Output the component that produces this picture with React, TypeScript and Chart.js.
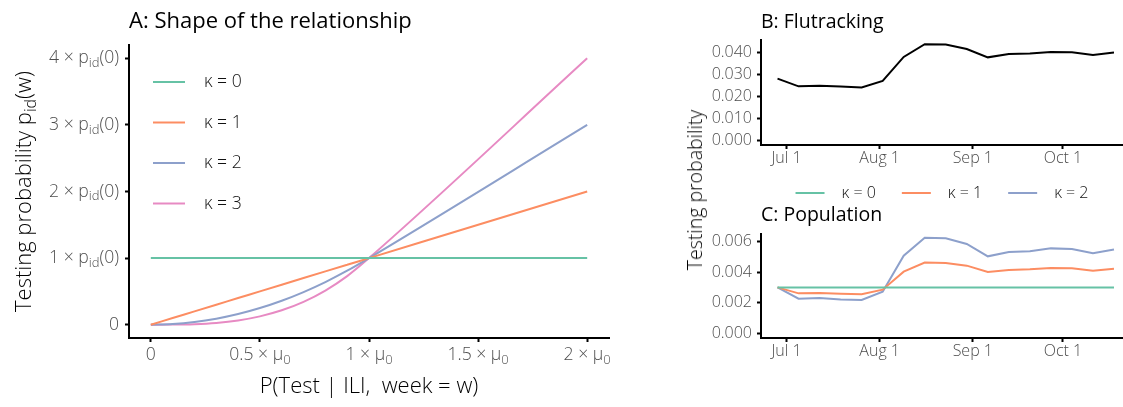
import React, { useEffect, useRef } from "react";
import { Chart, registerables } from "chart.js";

Chart.register(...registerables);

const FONT = "'Open Sans', 'DejaVu Sans', sans-serif";
const TICK_COLOR = "#4d4d4d";
const LIGHT = 300;

// ---------- Panel A: shape of the relationship ----------
const relativeIli = [0, 0.1, 0.2, 0.3, 0.4, 0.5, 0.6, 0.7, 0.8, 0.9, 1, 2];
const shapeK0 = [1, 1, 1, 1, 1, 1, 1, 1, 1, 1, 1, 1];
const shapeK1 = [0, 0.1, 0.2, 0.3, 0.4, 0.5, 0.6, 0.7, 0.8, 0.9, 1, 2];
const shapeK2 = [0, 0.01, 0.04, 0.09, 0.16, 0.25, 0.36, 0.49, 0.64, 0.81, 1, 3];
const shapeK3 = [0, 0.001, 0.008, 0.027, 0.064, 0.125, 0.216, 0.343, 0.512, 0.729, 1, 4];
const kappaLabels = ["κ = 0", "κ = 1", "κ = 2", "κ = 3"];
const kappaColors = ["#66C2A5", "#FC8D62", "#8DA0CB", "#E78AC3"];
const shapeYTicks = [0, 1, 2, 3, 4];
const shapeXTicks = [0, 0.5, 1, 1.5, 2];
const shapeXTickLabels = ["0", "0.5", "1", "1.5", "2"];

// ---------- Panels B and C: weekly series ----------
const weekDates = [
  "2019-06-28", "2019-07-05", "2019-07-12", "2019-07-19", "2019-07-26",
  "2019-08-02", "2019-08-09", "2019-08-16", "2019-08-23", "2019-08-30",
  "2019-09-06", "2019-09-13", "2019-09-20", "2019-09-27", "2019-10-04",
  "2019-10-11", "2019-10-18",
];
const flutracking = [
  0.0280, 0.0245, 0.0248, 0.0244, 0.0240, 0.0270, 0.0379, 0.0437, 0.0435,
  0.0415, 0.0377, 0.0392, 0.0395, 0.0401, 0.0400, 0.0388, 0.0399,
];
const popK0 = [
  0.0030, 0.0030, 0.0030, 0.0030, 0.0030, 0.0030, 0.0030, 0.0030, 0.0030,
  0.0030, 0.0030, 0.0030, 0.0030, 0.0030, 0.0030, 0.0030, 0.0030,
];
const popK1 = [
  0.00300, 0.00261, 0.00263, 0.00259, 0.00255, 0.00285, 0.00403, 0.00462, 0.00460,
  0.00442, 0.00401, 0.00414, 0.00418, 0.00427, 0.00425, 0.00409, 0.00422,
];
const popK2 = [
  0.00300, 0.00226, 0.00230, 0.00221, 0.00218, 0.00272, 0.00507, 0.00625, 0.00621,
  0.00584, 0.00503, 0.00531, 0.00537, 0.00555, 0.00551, 0.00523, 0.00547,
];
const popLabels = ["κ = 0", "κ = 1", "κ = 2"];
const monthTickDates = ["2019-07-01", "2019-08-01", "2019-09-01", "2019-10-01"];
const monthTickLabels = ["Jul 1", "Aug 1", "Sep 1", "Oct 1"];
const flutrackingYTicks = [0, 0.01, 0.02, 0.03, 0.04];
const populationYTicks = [0, 0.002, 0.004, 0.006];

const ORIGIN = Date.parse("2019-07-01");
const dayOffset = (d: string) => (Date.parse(d) - ORIGIN) / 86400000;

type Seg = { t: string; sub?: boolean };

function drawRich(
  ctx: CanvasRenderingContext2D,
  segs: Seg[],
  x: number,
  y: number,
  align: "left" | "right" | "center",
  size: number,
  weight: number,
  color: string
) {
  const mainFont = `${weight} ${size}px ${FONT}`;
  const subFont = `${weight} ${Math.round(size * 0.72)}px ${FONT}`;
  const widths = segs.map((s) => {
    ctx.font = s.sub ? subFont : mainFont;
    return ctx.measureText(s.t).width;
  });
  const total = widths.reduce((a, b) => a + b, 0);
  let cx = align === "right" ? x - total : align === "center" ? x - total / 2 : x;
  ctx.fillStyle = color;
  ctx.textBaseline = "middle";
  ctx.textAlign = "left";
  segs.forEach((s, i) => {
    ctx.font = s.sub ? subFont : mainFont;
    ctx.fillText(s.t, cx, s.sub ? y + size * 0.3 : y);
    cx += widths[i];
  });
}

const axisCommon = {
  grid: { drawOnChartArea: false, drawTicks: true, tickLength: 4, tickWidth: 2, tickColor: "#000" },
  border: { display: true, color: "#000", width: 2 },
};

const shapePlugin = {
  id: "shapeDecor",
  afterDraw(chart: any) {
    const { ctx, chartArea, scales } = chart;
    const ys = scales.y;
    const xs = scales.x;
    ctx.save();
    shapeYTicks.forEach((v) => {
      const py = ys.getPixelForValue(v);
      const segs: Seg[] = v === 0 ? [{ t: "0" }] : [{ t: `${v} × p` }, { t: "id", sub: true }, { t: "(0)" }];
      drawRich(ctx, segs, chartArea.left - 10, py, "right", 17.6, LIGHT, TICK_COLOR);
    });
    shapeXTicks.forEach((v, i) => {
      const px = xs.getPixelForValue(v);
      const segs: Seg[] = v === 0 ? [{ t: "0" }] : [{ t: `${shapeXTickLabels[i]} × μ` }, { t: "0", sub: true }];
      drawRich(ctx, segs, px, chartArea.bottom + 17, "center", 17.6, LIGHT, TICK_COLOR);
    });
    // legend inside panel
    chart.data.datasets.forEach((ds: any, i: number) => {
      const y = chartArea.top + 37 + i * 40.5;
      ctx.strokeStyle = ds.borderColor;
      ctx.lineWidth = 2;
      ctx.beginPath();
      ctx.moveTo(chartArea.left + 24, y);
      ctx.lineTo(chartArea.left + 56, y);
      ctx.stroke();
      ctx.font = `${LIGHT} 17.6px ${FONT}`;
      ctx.fillStyle = "#111";
      ctx.textBaseline = "middle";
      ctx.textAlign = "left";
      ctx.fillText(ds.label, chartArea.left + 75, y);
    });
    // y axis title
    ctx.translate(25, (chartArea.top + chartArea.bottom) / 2);
    ctx.rotate(-Math.PI / 2);
    drawRich(ctx, [{ t: "Testing probability p" }, { t: "id", sub: true }, { t: "(w)" }], 0, 0, "center", 22, LIGHT, "#000");
    ctx.restore();
  },
};

const popLegendPlugin = {
  id: "popLegend",
  afterDraw(chart: any) {
    const { ctx, chartArea } = chart;
    ctx.save();
    ctx.font = `${LIGHT} 16px ${FONT}`;
    const keyW = 29;
    const gapText = 17;
    const gapItem = 26;
    const ds = chart.data.datasets;
    const widths = ds.map((d: any) => ctx.measureText(d.label).width);
    const total = widths.reduce((a: number, w: number) => a + keyW + gapText + w, 0) + gapItem * (ds.length - 1);
    let x = (chartArea.left + chartArea.right) / 2 - total / 2;
    const y = 18;
    ds.forEach((d: any, i: number) => {
      ctx.strokeStyle = d.borderColor;
      ctx.lineWidth = 2;
      ctx.beginPath();
      ctx.moveTo(x, y);
      ctx.lineTo(x + keyW, y);
      ctx.stroke();
      ctx.fillStyle = "#111";
      ctx.textBaseline = "middle";
      ctx.textAlign = "left";
      ctx.fillText(d.label, x + keyW + gapText, y);
      x += keyW + gapText + widths[i] + gapItem;
    });
    ctx.restore();
  },
};

function timeXAxis() {
  return {
    type: "linear" as const,
    min: -8.5,
    max: 112,
    afterBuildTicks: (s: any) => {
      s.ticks = monthTickDates.map((d) => ({ value: dayOffset(d) }));
    },
    ticks: {
      autoSkip: false,
      maxRotation: 0,
      padding: 0,
      color: TICK_COLOR,
      font: { family: FONT, size: 16, weight: LIGHT as any },
      callback: (_v: any, i: number) => monthTickLabels[i],
    },
    ...axisCommon,
  };
}

function makeShapeChart(canvas: HTMLCanvasElement) {
  const series = [shapeK0, shapeK1, shapeK2, shapeK3];
  return new Chart(canvas, {
    type: "line",
    data: {
      datasets: series.map((s, i) => ({
        label: kappaLabels[i],
        data: relativeIli.map((x, j) => ({ x, y: s[j] })),
        borderColor: kappaColors[i],
        backgroundColor: kappaColors[i],
        borderWidth: 2,
        pointRadius: 0,
        cubicInterpolationMode: "monotone" as const,
        fill: false,
      })),
    },
    options: {
      animation: false,
      responsive: false,
      maintainAspectRatio: false,
      layout: { padding: { left: 0, right: 31, top: 0, bottom: 0 } },
      plugins: {
        legend: { display: false },
        tooltip: { enabled: false },
        title: {
          display: true,
          text: "A: Shape of the relationship",
          align: "start",
          fullSize: false,
          color: "#000",
          font: { family: FONT, size: 22, weight: 400 as any },
          padding: { top: 8.8, bottom: 9.8 },
        },
      },
      scales: {
        x: {
          type: "linear",
          min: -0.1,
          max: 2.1,
          afterBuildTicks: (s: any) => {
            s.ticks = shapeXTicks.map((v) => ({ value: v }));
          },
          afterFit: (s: any) => {
            s.height = 69;
          },
          ticks: { display: false },
          title: {
            display: true,
            text: "P(Test | ILI,  week = w)",
            color: "#000",
            font: { family: FONT, size: 22, weight: LIGHT as any },
            padding: { top: 0, bottom: 7 },
          },
          ...axisCommon,
        },
        y: {
          type: "linear",
          min: -0.2,
          max: 4.2,
          afterBuildTicks: (s: any) => {
            s.ticks = shapeYTicks.map((v) => ({ value: v }));
          },
          afterFit: (s: any) => {
            s.width = 129;
          },
          ticks: { display: false },
          ...axisCommon,
        },
      },
    } as any,
    plugins: [shapePlugin],
  });
}

function makeFlutrackingChart(canvas: HTMLCanvasElement) {
  return new Chart(canvas, {
    type: "line",
    data: {
      datasets: [
        {
          label: "Flutracking",
          data: weekDates.map((d, j) => ({ x: dayOffset(d), y: flutracking[j] })),
          borderColor: "#000",
          backgroundColor: "#000",
          borderWidth: 2,
          pointRadius: 0,
          tension: 0,
          fill: false,
        },
      ],
    },
    options: {
      animation: false,
      responsive: false,
      maintainAspectRatio: false,
      layout: { padding: 0 },
      plugins: {
        legend: { display: false },
        tooltip: { enabled: false },
        title: {
          display: true,
          text: "B: Flutracking",
          align: "start",
          fullSize: false,
          color: "#000",
          font: { family: FONT, size: 19.5, weight: 400 as any },
          padding: { top: 10.3, bottom: 6.3 },
        },
      },
      scales: {
        x: {
          ...timeXAxis(),
          afterFit: (s: any) => {
            s.height = 30;
          },
        },
        y: {
          type: "linear",
          min: -0.0022,
          max: 0.0456,
          afterBuildTicks: (s: any) => {
            s.ticks = flutrackingYTicks.map((v) => ({ value: v }));
          },
          afterFit: (s: any) => {
            s.width = 81;
          },
          ticks: {
            padding: 5,
            color: TICK_COLOR,
            font: { family: FONT, size: 16, weight: LIGHT as any },
            callback: (v: any) => Number(v).toFixed(3),
          },
          ...axisCommon,
        },
      },
    } as any,
  });
}

function makePopulationChart(canvas: HTMLCanvasElement) {
  const series = [popK0, popK1, popK2];
  return new Chart(canvas, {
    type: "line",
    data: {
      datasets: series.map((s, i) => ({
        label: popLabels[i],
        data: weekDates.map((d, j) => ({ x: dayOffset(d), y: s[j] })),
        borderColor: kappaColors[i],
        backgroundColor: kappaColors[i],
        borderWidth: 2,
        pointRadius: 0,
        tension: 0,
        fill: false,
      })),
    },
    options: {
      animation: false,
      responsive: false,
      maintainAspectRatio: false,
      layout: { padding: 0 },
      plugins: {
        legend: { display: false },
        tooltip: { enabled: false },
        title: {
          display: true,
          text: "C: Population",
          align: "start",
          fullSize: false,
          color: "#000",
          font: { family: FONT, size: 19.5, weight: 400 as any },
          padding: { top: 28.3, bottom: 7.3 },
        },
      },
      scales: {
        x: {
          ...timeXAxis(),
          afterFit: (s: any) => {
            s.height = 69;
          },
        },
        y: {
          type: "linear",
          min: -0.00031,
          max: 0.00649,
          afterBuildTicks: (s: any) => {
            s.ticks = populationYTicks.map((v) => ({ value: v }));
          },
          afterFit: (s: any) => {
            s.width = 81;
          },
          ticks: {
            padding: 5,
            color: TICK_COLOR,
            font: { family: FONT, size: 16, weight: LIGHT as any },
            callback: (v: any) => Number(v).toFixed(3),
          },
          ...axisCommon,
        },
      },
    } as any,
    plugins: [popLegendPlugin],
  });
}

export default function App() {
  const aRef = useRef<HTMLCanvasElement>(null);
  const bRef = useRef<HTMLCanvasElement>(null);
  const cRef = useRef<HTMLCanvasElement>(null);

  useEffect(() => {
    const charts = [
      makeShapeChart(aRef.current!),
      makeFlutrackingChart(bRef.current!),
      makePopulationChart(cRef.current!),
    ];
    return () => charts.forEach((c) => c.destroy());
  }, []);

  return (
    <div
      style={{
        position: "absolute",
        left: 0,
        top: 0,
        width: 1123,
        height: 407,
        overflow: "hidden",
        background: "#fff",
      }}
    >
      <canvas ref={aRef} width={640} height={407} style={{ position: "absolute", left: 0, top: 0 }} />
      <canvas ref={bRef} width={443} height={175} style={{ position: "absolute", left: 680, top: 0 }} />
      <canvas ref={cRef} width={443} height={232} style={{ position: "absolute", left: 680, top: 175 }} />
      <div
        style={{
          position: "absolute",
          left: 695,
          top: 189.5,
          transform: "translate(-50%, -50%) rotate(-90deg)",
          fontFamily: FONT,
          fontWeight: LIGHT,
          fontSize: 19.5,
          lineHeight: "22px",
          whiteSpace: "nowrap",
          color: "#000",
        }}
      >
        Testing probability
      </div>
    </div>
  );
}
